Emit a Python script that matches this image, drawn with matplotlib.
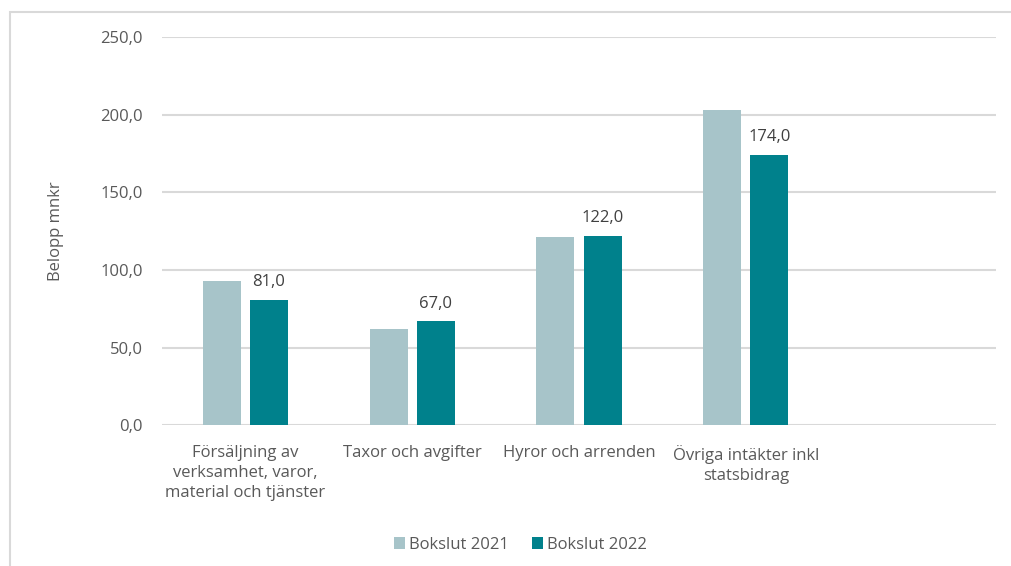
import matplotlib.pyplot as plt
from matplotlib.patches import Rectangle
import numpy as np

plt.rcParams['font.family'] = ['Open Sans', 'DejaVu Sans']

kategorier = ["Försäljning av\nverksamhet, varor,\nmaterial och tjänster",
              "Taxor och avgifter",
              "Hyror och arrenden",
              "Övriga intäkter inkl\nstatsbidrag",
              ""]
bokslut_2021 = [93, 62, 121, 203, np.nan]
bokslut_2022 = [81, 67, 122, 174, np.nan]
yticks = [0, 50, 100, 150, 200, 250]

ljus = '#A7C4C9'
mork = '#00818C'
textfarg = '#595959'
gridfarg = '#D9D9D9'

fig = plt.figure(figsize=(10.12, 5.66), dpi=100)
ax = fig.add_axes([162/1012, 1-425.4/566, 834/1012, 388.4/566])

x = np.arange(len(kategorier))
bredd = 0.228
forskj = 0.141
ax.bar(x - forskj, bokslut_2021, bredd, color=ljus, label='Bokslut 2021', zorder=3)
ax.bar(x + forskj, bokslut_2022, bredd, color=mork, label='Bokslut 2022', zorder=3)

# etiketter bara på 2022
for xi, v in zip(x + forskj, bokslut_2022):
    if np.isnan(v):
        continue
    ax.annotate(f"{v:.1f}".replace('.', ','), (xi, v), xytext=(0, 7),
                textcoords='offset points', ha='center', va='bottom',
                fontsize=12, color='#404040')

ax.set_xlim(-0.5, len(kategorier) - 0.5)
ax.set_ylim(0, 250)
ax.set_yticks(yticks)
ax.set_yticklabels([f"{t:.1f}".replace('.', ',') for t in yticks])
ax.set_xticks(x)
ax.set_xticklabels(kategorier, linespacing=1.35)
ax.tick_params(axis='both', length=0, labelsize=12, labelcolor=textfarg)
ax.tick_params(axis='y', pad=14)
ax.tick_params(axis='x', pad=14)
ax.yaxis.grid(True, color=gridfarg, linewidth=1.5, zorder=0)
for s in ax.spines.values():
    s.set_visible(False)
ax.set_ylabel('Belopp mnkr', fontsize=12, color=textfarg, labelpad=26)

fig.legend(loc='center', bbox_to_anchor=(520/1012, 1-545/566), ncol=2,
           frameon=False, fontsize=12, labelcolor=textfarg, handlelength=0.7,
           handleheight=0.7, handletextpad=0.2, columnspacing=1.4)

# ram runt diagrammet (bara vänster och övre kant syns)
fig.patches.append(Rectangle((10/1012, -0.1), 1.2, 1-12/566+0.1,
                             transform=fig.transFigure, fill=False,
                             edgecolor=gridfarg, linewidth=1.5))

fig.savefig('out.png', dpi=100)
